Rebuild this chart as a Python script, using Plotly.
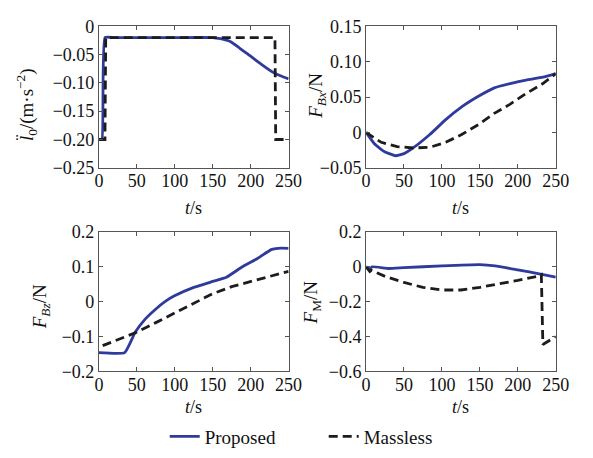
import plotly.graph_objects as go

# ---------------- data ----------------
# (a) l0 double-dot
t_a_prop = [0, 4, 8, 20, 60, 100, 150, 160, 173, 185, 199, 216, 229, 240, 250]
a_prop = [-0.2, -0.2, -0.02, -0.02, -0.02, -0.02, -0.02, -0.022, -0.027, -0.038, -0.052, -0.069, -0.081, -0.088, -0.093]
t_a_mass = [0, 8, 9, 100, 232, 233, 250]
a_mass = [-0.2, -0.2, -0.02, -0.02, -0.02, -0.2, -0.2]

# (b) F_Bx
t_b = [0, 11, 24, 39, 50, 62, 84, 105, 126, 148, 169, 190, 211, 233, 250]
b_prop = [0.0, -0.016, -0.027, -0.033, -0.030, -0.022, -0.003, 0.018, 0.036, 0.051, 0.063, 0.069, 0.074, 0.078, 0.083]
t_b_mass = [0, 20, 41, 62, 84, 105, 126, 148, 169, 190, 211, 233, 250]
b_mass = [0.0, -0.014, -0.020, -0.022, -0.021, -0.014, -0.003, 0.011, 0.027, 0.040, 0.055, 0.069, 0.083]

# (c) F_Bz
t_c = [0, 34, 48, 61, 74, 87, 99, 125, 150, 168, 189, 210, 227, 236, 250]
c_prop = [-0.146, -0.146, -0.087, -0.05, -0.023, 0.0, 0.016, 0.041, 0.058, 0.070, 0.100, 0.125, 0.149, 0.153, 0.153]
t_c_mass = [5, 25, 48, 75, 100, 125, 150, 175, 200, 225, 250]
c_mass = [-0.126, -0.108, -0.089, -0.06, -0.032, -0.004, 0.023, 0.043, 0.058, 0.073, 0.087]

# (d) F_M
t_d = [0, 5, 8, 30, 50, 100, 150, 170, 200, 230, 250]
d_prop = [0.0, -0.012, 0.0, -0.01, -0.005, 0.005, 0.012, 0.005, -0.018, -0.042, -0.06]
t_d_mass = [0, 5, 7, 25, 50, 75, 100, 125, 150, 175, 200, 225, 231, 233, 250]
d_mass = [0.0, -0.027, -0.02, -0.055, -0.09, -0.118, -0.133, -0.133, -0.118, -0.1, -0.078, -0.055, -0.045, -0.445, -0.40]

x_ticks = [0, 50, 100, 150, 200, 250]
x_ticktext = ["0", "50", "100", "150", "200", "250"]
a_ticks = [0, -0.05, -0.10, -0.15, -0.20, -0.25]
a_ticktext = ["0", "−0.05", "−0.10", "−0.15", "−0.20", "−0.25"]
b_ticks = [-0.05, 0, 0.05, 0.10, 0.15]
b_ticktext = ["−0.05", "0", "0.05", "0.10", "0.15"]
c_ticks = [-0.2, -0.1, 0, 0.1, 0.2]
c_ticktext = ["−0.2", "−0.1", "0", "0.1", "0.2"]
d_ticks = [-0.6, -0.4, -0.2, 0, 0.2]
d_ticktext = ["−0.6", "−0.4", "−0.2", "0", "0.2"]

y_titles = ["<i>l̈</i><sub>0</sub>/(m·s<sup>−2</sup>)",
            "<i>F</i><sub><i>Bx</i></sub>/N",
            "<i>F</i><sub><i>Bz</i></sub>/N",
            "<i>F</i><sub>M</sub>/N"]
x_title = "<i>t</i>/s"

# ---------------- styling ----------------
W, H = 593, 458
BLUE = "#2e3a9c"
BLACK = "#1c1c1c"
FONT = "Liberation Serif"
FS = 18
TXT = "#111"

def px_x(a, b):
    return [a / W, b / W]

def px_y(top, bot):
    return [1 - bot / H, 1 - top / H]

fig = go.Figure()

panels = [
    ("x", "y", t_a_prop, a_prop, t_a_mass, a_mass),
    ("x2", "y2", t_b, b_prop, t_b_mass, b_mass),
    ("x3", "y3", t_c, c_prop, t_c_mass, c_mass),
    ("x4", "y4", t_d, d_prop, t_d_mass, d_mass),
]
for i, (xa, ya, tp, vp, tm, vm) in enumerate(panels):
    fig.add_trace(go.Scatter(x=tp, y=vp, mode="lines", xaxis=xa, yaxis=ya,
                             line=dict(color=BLUE, width=2.8, shape="spline", smoothing=0.4),
                             name="Proposed", showlegend=(i == 0)))
    fig.add_trace(go.Scatter(x=tm, y=vm, mode="lines", xaxis=xa, yaxis=ya,
                             line=dict(color=BLACK, width=2.8, dash="9px,5px"),
                             name="Massless", showlegend=(i == 0)))

common_ax = dict(showline=True, linecolor="#555", linewidth=1, mirror="ticks",
                 ticks="inside", ticklen=4, tickcolor="#555", showgrid=False,
                 zeroline=False, tickfont=dict(family=FONT, size=FS, color=TXT))

def xaxis(domain, anchor):
    return dict(domain=domain, anchor=anchor, range=[0, 250], tickvals=x_ticks,
                ticktext=x_ticktext, ticklabelstandoff=-3, **common_ax)

def yaxis(domain, anchor, rng, tv, tt):
    return dict(domain=domain, anchor=anchor, range=rng, tickvals=tv, ticktext=tt,
                **common_ax)

dxL = px_x(97, 293)
dxR = px_x(373, 569)
dyT = px_y(17, 165)
dyB = px_y(232, 378)

annotations = []
# y-axis titles (pixel centres)
for txt, (cx, cy) in zip(y_titles, [(22, 99), (322, 90), (38, 310), (317, 306)]):
    annotations.append(dict(text=txt, x=cx / W, y=1 - cy / H, xref="paper", yref="paper",
                            textangle=-90, showarrow=False, xanchor="center", yanchor="middle",
                            font=dict(family=FONT, size=19, color=TXT)))
# x-axis titles
for cx, cy in [(195, 207), (471, 207), (195, 415), (471, 415)]:
    annotations.append(dict(text=x_title, x=cx / W, y=1 - cy / H, xref="paper", yref="paper",
                            showarrow=False, xanchor="center", yanchor="middle",
                            font=dict(family=FONT, size=18, color=TXT)))

fig.update_layout(
    width=W, height=H,
    margin=dict(l=0, r=0, t=0, b=0),
    paper_bgcolor="white", plot_bgcolor="white",
    font=dict(family=FONT, size=FS, color=TXT),
    xaxis=xaxis(dxL, "y"),
    xaxis2=xaxis(dxR, "y2"),
    xaxis3=xaxis(dxL, "y3"),
    xaxis4=xaxis(dxR, "y4"),
    yaxis=yaxis(dyT, "x", [-0.25, 0], a_ticks, a_ticktext),
    yaxis2=yaxis(dyT, "x2", [-0.05, 0.15], b_ticks, b_ticktext),
    yaxis3=yaxis(dyB, "x3", [-0.2, 0.2], c_ticks, c_ticktext),
    yaxis4=yaxis(dyB, "x4", [-0.6, 0.2], d_ticks, d_ticktext),
    annotations=annotations,
    legend=dict(orientation="h", x=165 / W, y=1 - 446 / H, xanchor="left", yanchor="middle",
                font=dict(family=FONT, size=19, color=TXT), entrywidth=114,
                bgcolor="rgba(0,0,0,0)"),
)

fig.write_html("out.html")
